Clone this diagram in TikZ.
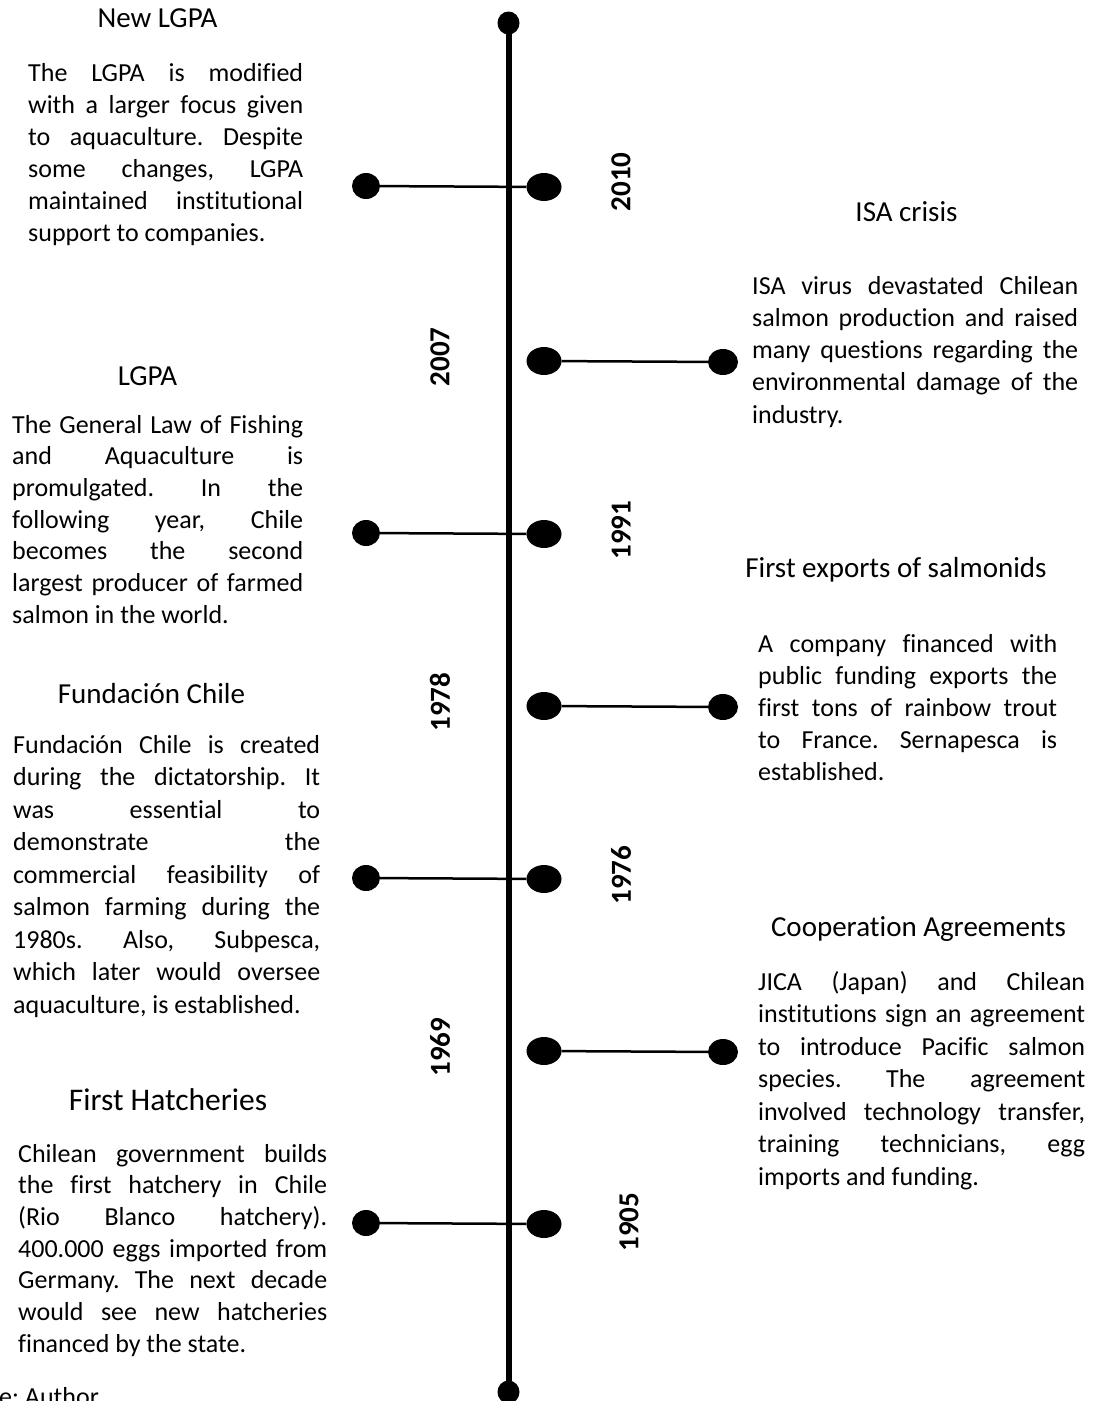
\documentclass[tikz,border=0pt]{standalone}
\usepackage{fontspec}
\setmainfont{Carlito}[Ligatures=NoCommon]
\usetikzlibrary{shapes.geometric}
\frenchspacing
\newcommand\jl[1]{\hbox to \hsize{\spaceskip=\fontdimen2\font plus 1fil\relax #1}}
\newcommand\lastl[1]{\hbox{#1}}
\newcommand\para[3]{\vtop{\hsize=#1\relax\baselineskip=#2\relax\lineskiplimit=-100pt\lineskip=0pt #3}}
\tikzset{
  body/.style={anchor=base west, inner sep=0pt, font=\fontsize{26}{32}\selectfont\frenchspacing},
  ttl/.style={anchor=base, inner sep=0pt, font=\fontsize{29}{35}\selectfont},
  yr/.style={rotate=90, inner sep=0pt, font=\fontsize{29}{35}\selectfont\bfseries},
  bigdot/.style={ellipse, fill=black, inner sep=0pt, minimum width=35pt, minimum height=28pt},
  ldot/.style={ellipse, fill=black, inner sep=0pt, minimum width=28pt, minimum height=26pt},
  rdot/.style={ellipse, fill=black, inner sep=0pt, minimum width=30pt, minimum height=26pt},
  enddot/.style={ellipse, fill=black, inner sep=0pt, minimum width=22pt, minimum height=23pt},
  link/.style={line width=2.5pt},
  axis/.style={line width=6pt}
}
\begin{document}
\begin{tikzpicture}[x=1pt,y=-1pt]
\useasboundingbox (0,0) rectangle (1098,1401);
% axis
\node[enddot] (top) at (508.5,23) {};
\node[enddot] (bot) at (508.5,1392) {};
\draw[axis] (top.center) -- (bot.center);
% left events
\node[ldot] (l1) at (366,186) {};
\node[bigdot] (b1) at (544,187) {};
\draw[link] (l1) -- (b1);
\node[ldot] (l2) at (366,533) {};
\node[bigdot] (b2) at (544,534) {};
\draw[link] (l2) -- (b2);
\node[ldot] (l3) at (366,878) {};
\node[bigdot] (b3) at (544,879) {};
\draw[link] (l3) -- (b3);
\node[ldot] (l4) at (366,1223) {};
\node[bigdot] (b4) at (544,1224) {};
\draw[link] (l4) -- (b4);
% right events
\node[bigdot] (b5) at (544,361) {};
\node[rdot] (r5) at (723,362) {};
\draw[link] (b5) -- (r5);
\node[bigdot] (b6) at (544,706) {};
\node[rdot] (r6) at (723,707) {};
\draw[link] (b6) -- (r6);
\node[bigdot] (b7) at (544,1051) {};
\node[rdot] (r7) at (723,1052) {};
\draw[link] (b7) -- (r7);
% years
\node[yr] (y2010) at (621,182) {2010};
\node[yr] (y2007) at (440,357) {2007};
\node[yr] (y1991) at (621,530) {1991};
\node[yr] (y1978) at (440,702) {1978};
\node[yr] (y1976) at (621,875) {1976};
\node[yr] (y1969) at (440,1047) {1969};
\node[yr] (y1905) at (629,1222) {1905};
% titles
\node[ttl] (t1) at (157.5,27) {New LGPA};
\node[ttl] (t2) at (906.5,221) {ISA crisis};
\node[ttl] (t3) at (147.5,385) {LGPA};
\node[ttl] (t4) at (896,577) {First exports of salmonids};
\node[ttl] (t5) at (151.5,703) {Fundación Chile};
\node[ttl] (t6) at (918.5,936) {Cooperation Agreements};
\node[ttl, font=\fontsize{31.5}{38}\selectfont] (t7) at (168,1110) {First Hatcheries};
% bodies
\node[body] (p1) at (28,81) {\para{275pt}{32pt}{%
\jl{The LGPA is modified}
\jl{with a larger focus given}
\jl{to aquaculture. Despite}
\jl{some changes, LGPA}
\jl{maintained institutional}
\lastl{support to companies.}}};
\node[body] (p2) at (752,294) {\para{326pt}{32.25pt}{%
\jl{ISA virus devastated Chilean}
\jl{salmon production and raised}
\jl{many questions regarding the}
\jl{environmental damage of the}
\lastl{industry.}}};
\node[body] (p3) at (12,433) {\para{291pt}{31.7pt}{%
\jl{The General Law of Fishing}
\jl{and Aquaculture is}
\jl{promulgated. In the}
\jl{following year, Chile}
\jl{becomes the second}
\jl{largest producer of farmed}
\lastl{salmon in the world.}}};
\node[body] (p4) at (758,652) {\para{299pt}{32pt}{%
\jl{A company financed with}
\jl{public funding exports the}
\jl{first tons of rainbow trout}
\jl{to France. Sernapesca is}
\lastl{established.}}};
\node[body] (p5) at (13,753) {\para{307pt}{32.5pt}{%
\jl{Fundación Chile is created}
\jl{during the dictatorship. It}
\jl{was essential to}
\jl{demonstrate the}
\jl{commercial feasibility of}
\jl{salmon farming during the}
\jl{1980s. Also, Subpesca,}
\jl{which later would oversee}
\lastl{aquaculture, is established.}}};
\node[body] (p6) at (758,990) {\para{327pt}{32.5pt}{%
\jl{JICA (Japan) and Chilean}
\jl{institutions sign an agreement}
\jl{to introduce Pacific salmon}
\jl{species. The agreement}
\jl{involved technology transfer,}
\jl{training technicians, egg}
\lastl{imports and funding.}}};
\node[body] (p7) at (18,1162) {\para{309pt}{31.7pt}{%
\jl{Chilean government builds}
\jl{the first hatchery in Chile}
\jl{(Rio Blanco hatchery).}
\jl{400.000 eggs imported from}
\jl{Germany. The next decade}
\jl{would see new hatcheries}
\lastl{financed by the state.}}};
\node[body] (src) at (-1,1405) {e: Author};
\end{tikzpicture}
\end{document}
